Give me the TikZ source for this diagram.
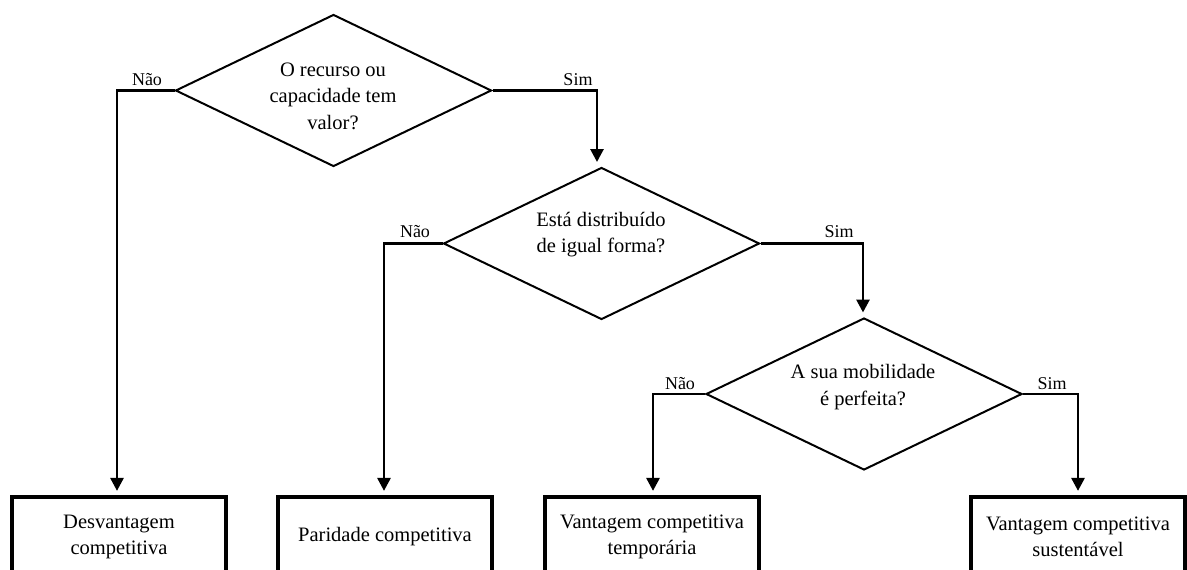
\documentclass[tikz,border=0pt]{standalone}
\usepackage{fontspec}
\setmainfont{Liberation Serif}
\usetikzlibrary{shapes.geometric,arrows.meta,calc}
\begin{document}
\begin{tikzpicture}[x=1pt,y=-1pt,
  question/.style={diamond, draw, line width=2pt, minimum width=316pt,
    minimum height=152pt, aspect=2.08, inner sep=0pt},
  qtext/.style={align=center, font=\fontsize{20.5}{26.5}\selectfont, inner sep=0pt},
  outcome/.style={rectangle, draw, line width=3.2pt, minimum width=214pt,
    minimum height=80pt, align=center, font=\fontsize{20.5}{26.5}\selectfont},
  flow/.style={line width=2.8pt, -{Triangle[length=13pt,width=13pt]}, shorten >=4.5pt},
  answer/.style={font=\fontsize{18}{20}\selectfont, anchor=base, inner sep=0pt}]
  \clip (0,0) rectangle (1187,570);

  % decision diamonds
  \node[question] (d1) at (333.5,90.5) {};
  \node[qtext] (d1t) at (333,96) {O recurso ou\\capacidade tem\\valor?};
  \node[question] (d2) at (601.5,243.5) {};
  \node[qtext] (d2t) at (601,234.5) {Está distribuído\\de igual forma?};
  \node[question] (d3) at (864,394) {};
  \node[qtext] (d3t) at (863,387) {A sua mobilidade\\é perfeita?};

  % outcomes (boxes run past the lower edge)
  \node[outcome] (o1) at (119,537) {Desvantagem\\competitiva};
  \node[outcome] (o2) at (385,537) {Paridade competitiva};
  \node[outcome] (o3) at (652,537) {Vantagem competitiva\\temporária};
  \node[outcome] (o4) at (1078,537) {Vantagem competitiva\\sustentável};

  % corner points of the connectors
  \coordinate (n1) at (117,90.5);
  \coordinate (s1) at (597,90.5);
  \coordinate (n2) at (384,243.5);
  \coordinate (s2) at (863,243.5);
  \coordinate (n3) at (653,394);
  \coordinate (s3) at (1078,394);

  \draw[flow] (d1.west) -- (n1) -- (n1 |- o1.north);
  \draw[flow] (d1.east) -- (s1) -- (s1 |- d2.north);
  \draw[flow] (d2.west) -- (n2) -- (n2 |- o2.north);
  \draw[flow] (d2.east) -- (s2) -- (s2 |- d3.north);
  \draw[flow] (d3.west) -- (n3) -- (n3 |- o3.north);
  \draw[flow] (d3.east) -- (s3) -- (s3 |- o4.north);

  % branch labels
  \node[answer] (l1n) at (147,85) {Não};
  \node[answer] (l1s) at (578,85) {Sim};
  \node[answer] (l2n) at (415,237) {Não};
  \node[answer] (l2s) at (839,237) {Sim};
  \node[answer] (l3n) at (680,389) {Não};
  \node[answer] (l3s) at (1052,389) {Sim};
\end{tikzpicture}
\end{document}
